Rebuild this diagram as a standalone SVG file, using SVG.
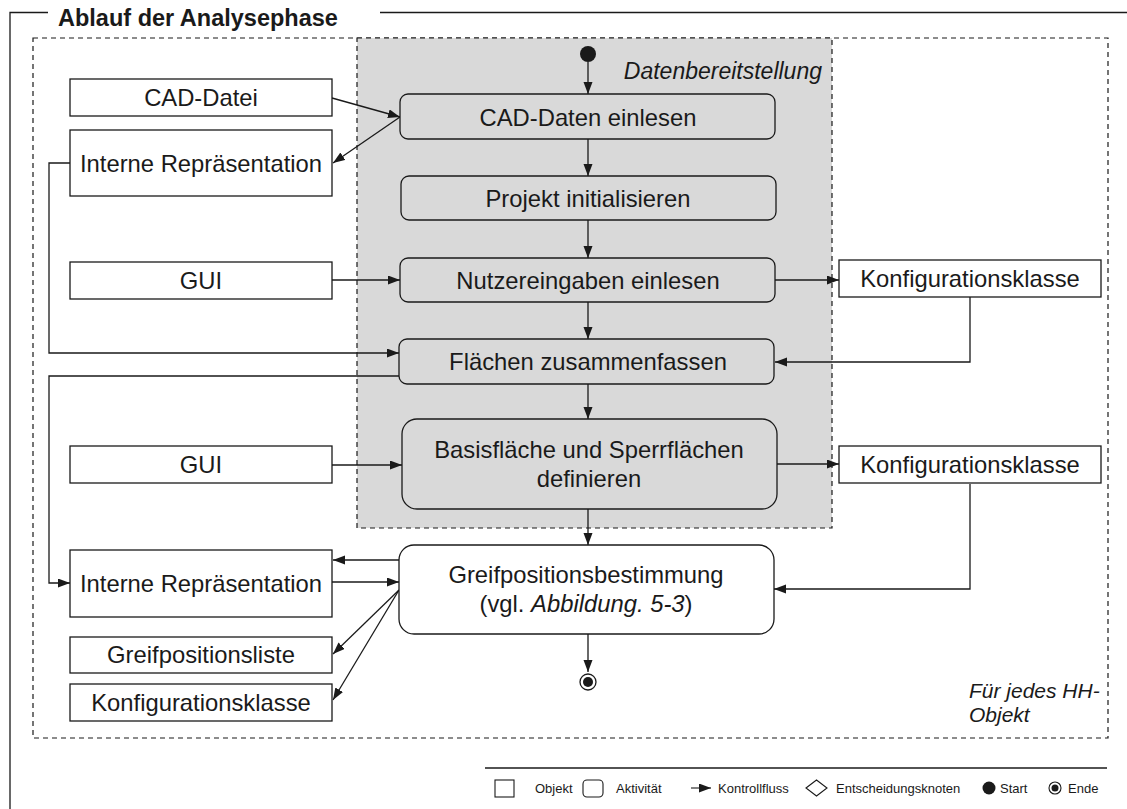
<svg xmlns="http://www.w3.org/2000/svg" width="1127" height="809" viewBox="0 0 1127 809">
  <style>
    text { font-family: "Liberation Sans", Arial, sans-serif; fill: #1a1a1a; }
    .lbl { font-size: 23.8px; text-anchor: middle; }
    .it { font-style: italic; }
    .obj { fill: #ffffff; stroke: #1a1a1a; stroke-width: 1.3; }
    .act { fill: #d9d9d9; stroke: #1a1a1a; stroke-width: 1.3; }
    .actw { fill: #ffffff; stroke: #1a1a1a; stroke-width: 1.3; }
    .frame { fill: none; stroke: #1a1a1a; stroke-width: 1.3; }
    .dash { fill: none; stroke: #1a1a1a; stroke-width: 1.2; stroke-dasharray: 5 4; }
    .con { fill: none; stroke: #1a1a1a; stroke-width: 1.3; marker-end: url(#arr); }
    .leg { font-size: 13px; }
  </style>
  <defs>
    <marker id="arr" markerUnits="userSpaceOnUse" markerWidth="13" markerHeight="10" refX="12" refY="4.5" orient="auto">
      <path d="M0,0 L12,4.5 L0,9 z" fill="#1a1a1a"/>
    </marker>
  </defs>

  <rect width="1127" height="809" fill="#ffffff"/>

  <!-- outer frame with title -->
  <g id="frame">
    <path class="frame" d="M48,12.5 H10 V809"/>
    <path class="frame" d="M380,12.5 H1127"/>
    <text x="58" y="26" style="font-size:23.5px;font-weight:bold">Ablauf der Analysephase</text>
  </g>

  <!-- loop region and data-provision region -->
  <g id="regions">
    <rect class="dash" x="33" y="38" width="1075" height="700"/>
    <rect x="357" y="38" width="475" height="490" fill="#d9d9d9" stroke="#1a1a1a" stroke-width="1.2" stroke-dasharray="5 4"/>
    <text class="it" x="822" y="79" text-anchor="end" style="font-size:23px">Datenbereitstellung</text>
    <text class="it" x="969" y="698" style="font-size:21px">Für jedes HH-</text>
    <text class="it" x="969" y="722" style="font-size:21px">Objekt</text>
  </g>

  <!-- connectors -->
  <g id="connectors">
    <path class="con" d="M588,62 V94"/>
    <path class="con" d="M332,98 L400,117"/>
    <path class="con" d="M400,117 L333,163"/>
    <path class="con" d="M588,139 V176"/>
    <path class="con" d="M588,220 V258"/>
    <path class="con" d="M332,280 H400"/>
    <path class="con" d="M775,280 H839"/>
    <path class="con" d="M588,302 V339"/>
    <path class="con" d="M70,163 H49 V353 H399"/>
    <path class="con" d="M970,297 V362 H775"/>
    <path class="con" d="M399,376 H49 V583 H70"/>
    <path class="con" d="M588,384 V419"/>
    <path class="con" d="M332,465 H402"/>
    <path class="con" d="M777,464 H839"/>
    <path class="con" d="M588,509 V545"/>
    <path class="con" d="M970,484 V589 H774"/>
    <path class="con" d="M399,560 H333"/>
    <path class="con" d="M332,582 H399"/>
    <path class="con" d="M399,590 L333,654"/>
    <path class="con" d="M399,590 L333,700"/>
    <path class="con" d="M588,634 V672"/>
  </g>

  <!-- start / end -->
  <g id="start"><circle cx="588" cy="54" r="8" fill="#1a1a1a"/></g>
  <g id="end">
    <circle cx="588" cy="682" r="8" fill="#ffffff" stroke="#1a1a1a" stroke-width="1.3"/>
    <circle cx="588" cy="682" r="5" fill="#1a1a1a"/>
  </g>

  <!-- activities -->
  <g id="cad-daten-einlesen">
    <rect class="act" x="400" y="94" width="375" height="45" rx="8"/>
    <text class="lbl" x="588" y="126">CAD-Daten einlesen</text>
  </g>
  <g id="projekt-initialisieren">
    <rect class="act" x="401" y="176" width="375" height="44" rx="8"/>
    <text class="lbl" x="588" y="207">Projekt initialisieren</text>
  </g>
  <g id="nutzereingaben-einlesen">
    <rect class="act" x="400" y="258" width="375" height="44" rx="8"/>
    <text class="lbl" x="588" y="289">Nutzereingaben einlesen</text>
  </g>
  <g id="flaechen-zusammenfassen">
    <rect class="act" x="399" y="339" width="375" height="45" rx="8"/>
    <text class="lbl" x="588" y="370">Flächen zusammenfassen</text>
  </g>
  <g id="basisflaeche-definieren">
    <rect class="act" x="402" y="419" width="375" height="90" rx="15"/>
    <text class="lbl" x="589" y="458">Basisfläche und Sperrflächen</text>
    <text class="lbl" x="589" y="487">definieren</text>
  </g>
  <g id="greifpositionsbestimmung">
    <rect class="actw" x="399" y="545" width="375" height="89" rx="15"/>
    <text class="lbl" x="586" y="583">Greifpositionsbestimmung</text>
    <text class="lbl" x="586" y="612">(vgl. <tspan class="it">Abbildung. 5-3</tspan>)</text>
  </g>

  <!-- objects -->
  <g id="obj-cad-datei">
    <rect class="obj" x="70" y="79" width="262" height="37"/>
    <text class="lbl" x="201" y="106">CAD-Datei</text>
  </g>
  <g id="obj-interne-repr-1">
    <rect class="obj" x="70" y="130" width="262" height="66"/>
    <text class="lbl" x="201" y="172">Interne Repräsentation</text>
  </g>
  <g id="obj-gui-1">
    <rect class="obj" x="70" y="262" width="262" height="37"/>
    <text class="lbl" x="201" y="289">GUI</text>
  </g>
  <g id="obj-konfig-1">
    <rect class="obj" x="839" y="260" width="262" height="37"/>
    <text class="lbl" x="970" y="287">Konfigurationsklasse</text>
  </g>
  <g id="obj-gui-2">
    <rect class="obj" x="70" y="446" width="262" height="37"/>
    <text class="lbl" x="201" y="473">GUI</text>
  </g>
  <g id="obj-konfig-2">
    <rect class="obj" x="839" y="446" width="262" height="37"/>
    <text class="lbl" x="970" y="473">Konfigurationsklasse</text>
  </g>
  <g id="obj-interne-repr-2">
    <rect class="obj" x="70" y="550" width="262" height="67"/>
    <text class="lbl" x="201" y="592">Interne Repräsentation</text>
  </g>
  <g id="obj-greifpositionsliste">
    <rect class="obj" x="70" y="637" width="262" height="36"/>
    <text class="lbl" x="201" y="663">Greifpositionsliste</text>
  </g>
  <g id="obj-konfig-3">
    <rect class="obj" x="70" y="684" width="262" height="37"/>
    <text class="lbl" x="201" y="711">Konfigurationsklasse</text>
  </g>

  <!-- legend -->
  <g id="legend">
    <path d="M485,768 H1107" stroke="#1a1a1a" stroke-width="1.3"/>
    <rect x="495" y="780" width="19" height="17" fill="none" stroke="#1a1a1a" stroke-width="1.1"/>
    <text class="leg" x="535" y="793">Objekt</text>
    <rect x="583" y="780" width="20" height="17" rx="4" fill="none" stroke="#1a1a1a" stroke-width="1.1"/>
    <text class="leg" x="616" y="793">Aktivität</text>
    <path class="con" d="M691,788 H711" style="stroke-width:1.1"/>
    <text class="leg" x="718" y="793">Kontrollfluss</text>
    <path d="M806,788 L816.5,780 L827,788 L816.5,796 z" fill="none" stroke="#1a1a1a" stroke-width="1.1"/>
    <text class="leg" x="836" y="793">Entscheidungsknoten</text>
    <circle cx="989" cy="788" r="6.5" fill="#1a1a1a"/>
    <text class="leg" x="1000" y="793">Start</text>
    <circle cx="1055" cy="788" r="6" fill="none" stroke="#1a1a1a" stroke-width="1.1"/>
    <circle cx="1055" cy="788" r="3.5" fill="#1a1a1a"/>
    <text class="leg" x="1068" y="793">Ende</text>
  </g>
</svg>
